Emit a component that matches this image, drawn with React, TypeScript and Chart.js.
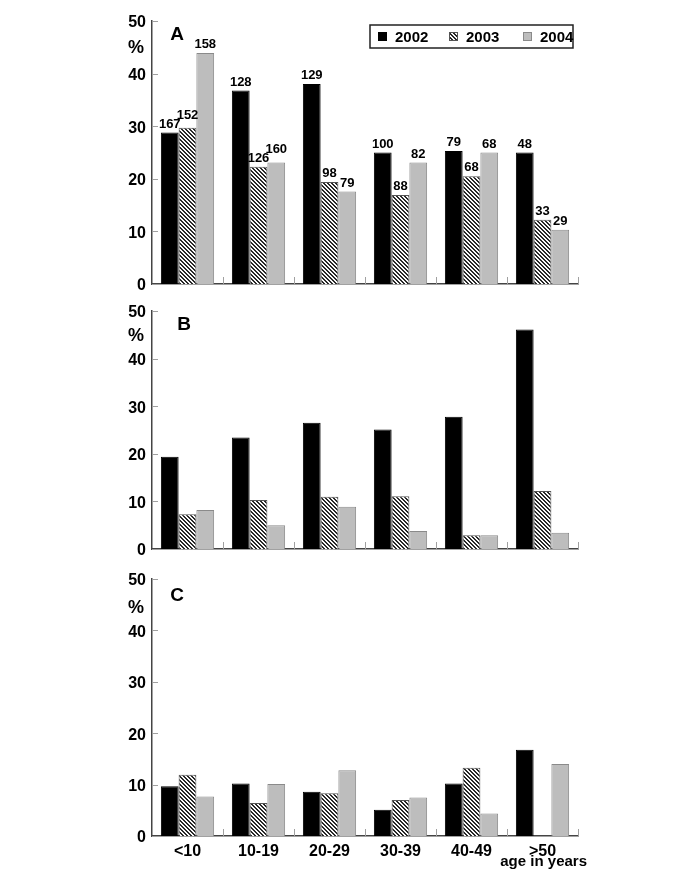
import React, { useEffect, useRef } from 'react';
import { Chart, registerables } from 'chart.js';

Chart.register(...registerables);

const FONT = '"Liberation Sans", Arial, Helvetica, sans-serif';

const categories = ['<10', '10-19', '20-29', '30-39', '40-49', '>50'];
const years = ['2002', '2003', '2004'];
const yTicks = [0, 10, 20, 30, 40, 50];

// Panel A (% by age, with case counts above bars)
const a2002 = [28.8, 36.8, 38.0, 25.0, 25.3, 25.0];
const a2003 = [29.7, 22.3, 19.4, 16.9, 20.5, 12.2];
const a2004 = [43.9, 23.1, 17.6, 23.1, 25.0, 10.3];
const n2002 = [167, 128, 129, 100, 79, 48];
const n2003 = [152, 126, 98, 88, 68, 33];
const n2004 = [158, 160, 79, 82, 68, 29];

// Panel B
const b2002 = [19.4, 23.4, 26.5, 25.1, 27.8, 46.1];
const b2003 = [7.3, 10.3, 11.0, 11.1, 2.9, 12.2];
const b2004 = [8.2, 5.0, 8.9, 3.8, 2.9, 3.4];

// Panel C
const c2002 = [9.7, 10.2, 8.6, 5.1, 10.2, 16.8];
const c2003 = [11.9, 6.4, 8.3, 7.0, 13.3, 0];
const c2004 = [7.7, 10.1, 12.8, 7.5, 4.4, 14.0];

function makeHatch(): CanvasPattern | string {
  const n = 4;
  const c = document.createElement('canvas');
  c.width = n;
  c.height = n;
  const g = c.getContext('2d');
  if (!g) return '#777';
  const img = g.createImageData(n, n);
  for (let y = 0; y < n; y++) {
    for (let x = 0; x < n; x++) {
      const k = (((x - y) % n) + n) % n;
      const dark = k === 0 || k === 1;
      const v = dark ? 40 : 250;
      const idx = (y * n + x) * 4;
      img.data[idx] = v;
      img.data[idx + 1] = v;
      img.data[idx + 2] = v;
      img.data[idx + 3] = 255;
    }
  }
  g.putImageData(img, 0, 0);
  const p = g.createPattern(c, 'repeat');
  return p || '#777';
}

type PanelProps = {
  letter: string;
  d2002: number[];
  d2003: number[];
  d2004: number[];
  counts?: number[][];
  legend?: boolean;
  xLabels?: boolean;
  top: number;
  height: number;
  areaTop: number;
  areaBottom: number;
  letterDx: number;
  letterDy: number;
  pctDy: number;
};

function Panel(props: PanelProps) {
  const ref = useRef<HTMLCanvasElement>(null);
  useEffect(() => {
    const canvas = ref.current;
    if (!canvas) return;
    const hatch = makeHatch();
    const fills = ['#000000', hatch, '#bdbdbd'];
    const borders = ['#000000', '#555555', '#8a8a8a'];
    const series = [props.d2002, props.d2003, props.d2004];

    const deco = {
      id: 'deco' + props.letter,
      afterDatasetsDraw(chart: any) {
        const ctx = chart.ctx;
        const ca = chart.chartArea;
        const xs = chart.scales.x;
        const ys = chart.scales.y;
        ctx.save();
        // inward ticks
        ctx.strokeStyle = '#a0a0a0';
        ctx.lineWidth = 1;
        ctx.beginPath();
        for (const v of yTicks) {
          const py = Math.round(ys.getPixelForValue(v)) + 0.5;
          ctx.moveTo(ca.left, py);
          ctx.lineTo(ca.left + 6, py);
        }
        for (let i = 0; i < categories.length; i++) {
          const px = Math.round(xs.getPixelForValue(i + 0.5)) + 0.5;
          ctx.moveTo(px, ca.bottom);
          ctx.lineTo(px, ca.bottom - 7);
        }
        ctx.stroke();

        // panel letter and %
        ctx.fillStyle = '#000';
        ctx.textAlign = 'center';
        ctx.textBaseline = 'middle';
        ctx.font = 'bold 19px ' + FONT;
        ctx.fillText(props.letter, ca.left + props.letterDx, ca.top + props.letterDy);
        ctx.font = 'bold 18px ' + FONT;
        ctx.fillText('%', ca.left - 16, ca.top + props.pctDy);

        // count labels
        if (props.counts) {
          ctx.font = 'bold 13px ' + FONT;
          ctx.textBaseline = 'bottom';
          for (let i = 0; i < categories.length; i++) {
            let prev: { l: number; r: number; t: number } | null = null;
            for (let d = 0; d < 3; d++) {
              const el = chart.getDatasetMeta(d).data[i];
              const txt = String(props.counts[d][i]);
              const w = ctx.measureText(txt).width;
              let yb = el.y - 2;
              const l = el.x - w / 2;
              const r = el.x + w / 2;
              if (prev && l < prev.r && yb > prev.t && yb - 10 < prev.t + 10) {
                yb = prev.t + 1;
              }
              ctx.fillText(txt, el.x, yb);
              prev = { l, r, t: yb - 10 };
            }
          }
        }

        // legend
        if (props.legend) {
          const bw = 203;
          const bh = 23;
          const bx = ca.right - 5 - bw;
          const by = ca.top + 4;
          ctx.fillStyle = '#fff';
          ctx.fillRect(bx, by, bw, bh);
          ctx.strokeStyle = '#222';
          ctx.lineWidth = 1.5;
          ctx.strokeRect(bx, by, bw, bh);
          ctx.font = 'bold 15px ' + FONT;
          ctx.textAlign = 'left';
          ctx.textBaseline = 'middle';
          const offs = [8, 79, 153];
          for (let k = 0; k < 3; k++) {
            const sx = bx + offs[k];
            const sy = by + bh / 2 - 4.5;
            ctx.fillStyle = fills[k] as any;
            ctx.fillRect(sx, sy, 9, 9);
            ctx.strokeStyle = borders[k];
            ctx.lineWidth = 1;
            ctx.strokeRect(sx + 0.5, sy + 0.5, 8, 8);
            ctx.fillStyle = '#000';
            ctx.fillText(years[k], sx + 17, by + bh / 2 + 1);
          }
        }

        // x axis title
        if (props.xLabels) {
          ctx.font = 'bold 15px ' + FONT;
          ctx.textAlign = 'right';
          ctx.textBaseline = 'alphabetic';
          ctx.fillStyle = '#000';
          ctx.fillText('age in years', ca.right + 9, ca.bottom + 30);
        }
        ctx.restore();
      },
    };

    const chart = new Chart(canvas, {
      type: 'bar',
      data: {
        labels: categories,
        datasets: series.map((s, k) => ({
          label: years[k],
          data: s,
          backgroundColor: fills[k] as any,
          borderColor: borders[k],
          borderWidth: 1,
          categoryPercentage: 0.75,
          barPercentage: 1,
        })),
      },
      options: {
        animation: false,
        responsive: false,
        maintainAspectRatio: false,
        layout: { padding: { top: props.areaTop, right: 107, bottom: 0, left: 0 } },
        plugins: { legend: { display: false }, tooltip: { enabled: false } },
        scales: {
          x: {
            grid: { display: false, drawTicks: false },
            border: { display: true, color: '#444', width: 1.5 },
            ticks: {
              display: !!props.xLabels,
              color: '#000',
              font: { family: FONT, size: 16, weight: 'bold' },
              padding: 6,
              maxRotation: 0,
              autoSkip: false,
            },
            afterFit: (s: any) => {
              s.height = props.height - props.areaBottom;
            },
          },
          y: {
            min: 0,
            max: 50,
            grid: { display: false, drawTicks: false },
            border: { display: true, color: '#444', width: 1.5 },
            ticks: {
              stepSize: 10,
              color: '#000',
              font: { family: FONT, size: 16, weight: 'bold' },
              padding: 6,
              labelOffset: 2,
            },
            afterFit: (s: any) => {
              s.width = 152;
            },
          },
        },
      },
      plugins: [deco],
    } as any);
    return () => chart.destroy();
  }, []);
  return (
    <canvas
      ref={ref}
      width={685}
      height={props.height}
      style={{ position: 'absolute', left: 0, top: props.top, width: 685, height: props.height }}
    />
  );
}

export default function App() {
  return (
    <div style={{ position: 'absolute', left: 0, top: 0, width: 685, height: 886, background: '#fff', overflow: 'hidden' }}>
      <Panel
        letter="A"
        d2002={a2002}
        d2003={a2003}
        d2004={a2004}
        counts={[n2002, n2003, n2004]}
        legend
        top={0}
        height={302}
        areaTop={21}
        areaBottom={284}
        letterDx={25}
        letterDy={14}
        pctDy={27}
      />
      <Panel
        letter="B"
        d2002={b2002}
        d2003={b2003}
        d2004={b2004}
        top={289}
        height={280}
        areaTop={22}
        areaBottom={260}
        letterDx={32}
        letterDy={14}
        pctDy={25}
      />
      <Panel
        letter="C"
        d2002={c2002}
        d2003={c2003}
        d2004={c2004}
        xLabels
        top={557}
        height={329}
        areaTop={22}
        areaBottom={279}
        letterDx={25}
        letterDy={17}
        pctDy={29}
      />
    </div>
  );
}
